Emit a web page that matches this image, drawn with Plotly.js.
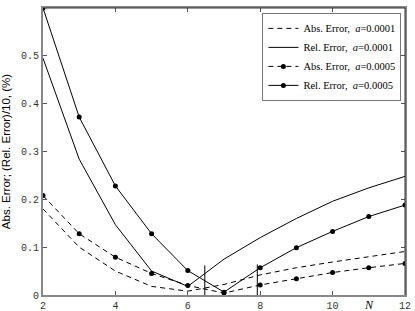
<!DOCTYPE html>
<html><head><meta charset="utf-8">
<script src="https://cdn.plot.ly/plotly-3.0.1.min.js"></script>
<style>html,body{margin:0;padding:0;background:#fff}#c{width:415px;height:311px}</style>
</head><body><div id="c"></div>
<script>
const N = [2,3,4,5,6,7,8,9,10,11,12];
const absA1 = [0.180,0.100,0.050,0.018,0.008,0.022,0.042,0.057,0.069,0.080,0.091];
const relA1 = [0.495,0.284,0.147,0.050,0.018,0.075,0.120,0.160,0.196,0.224,0.248];
const absA5 = [0.208,0.128,0.079,0.045,0.020,0.004,0.021,0.034,0.047,0.057,0.066];
const relA5 = [0.600,0.372,0.228,0.128,0.051,0.006,0.057,0.099,0.133,0.164,0.188];
const names = ['Abs. Error,  <i>a</i>=0.0001','Rel. Error,  <i>a</i>=0.0001','Abs. Error,  <i>a</i>=0.0005','Rel. Error,  <i>a</i>=0.0005'];
const xTicks = [2,4,6,8,10,12];
const yTicks = [0,0.1,0.2,0.3,0.4,0.5];
const yTickText = ['0','0.1','0.2','0.3','0.4','0.5'];
const cursorX = [6.47, 7.92];
const cursorTop = [0.062, 0.064];

const dash = '5px,4px';
const traces = [
  {x:N, y:absA1, name:names[0], legendgroup:'g1', mode:'lines', line:{color:'#000', width:1, dash:dash}},
  {x:N, y:relA1, name:names[1], legendgroup:'g2', mode:'lines', line:{color:'#000', width:1}},
  {x:N, y:absA5, name:names[2], legendgroup:'g3', mode:'lines+markers', line:{color:'#000', width:1, dash:dash}, marker:{color:'#000', size:5}},
  {x:N, y:relA5, name:names[3], legendgroup:'g4', mode:'lines+markers', line:{color:'#000', width:1}, marker:{color:'#000', size:5}}
];
const shapes = [];
cursorX.forEach((cx,i)=>shapes.push({type:'line', xref:'x', yref:'y', x0:cx, x1:cx, y0:0, y1:cursorTop[i], line:{color:'#000', width:1}}));
shapes.push({type:'line', xref:'paper', yref:'paper', x0:0, x1:1, y0:1, y1:1, line:{color:'#333', width:1}, layer:'above'});
shapes.push({type:'line', xref:'paper', yref:'paper', x0:1, x1:1, y0:0, y1:1, line:{color:'#333', width:1}, layer:'above'});
const layout = {
  width:415, height:311,
  margin:{l:43, r:10, t:8, b:16},
  paper_bgcolor:'#fff', plot_bgcolor:'#fff',
  showlegend:true,
  legend:{x:0.99, xanchor:'right', y:0.983, yanchor:'top', bgcolor:'#fff', bordercolor:'#777', borderwidth:1,
          traceorder:'grouped', tracegroupgap:0, itemwidth:30,
          font:{family:'Liberation Serif, Times New Roman, serif', size:10.5, color:'#000'}},
  xaxis:{range:[2,12], tickvals:xTicks, ticks:'inside', ticklen:4, tickcolor:'#555', showgrid:false, zeroline:false,
         showline:true, linecolor:'#888', linewidth:2, mirror:'ticks',
         tickfont:{family:'Liberation Mono, Courier New, monospace', size:10, color:'#333'}},
  yaxis:{range:[0,0.6], tickvals:yTicks, ticktext:yTickText, ticks:'inside', ticklen:4, tickcolor:'#555', showgrid:false, zeroline:false,
         showline:true, linecolor:'#888', linewidth:2, mirror:'ticks',
         tickfont:{family:'Liberation Mono, Courier New, monospace', size:10, color:'#333'},
         title:{text:'Abs. Error; (Rel. Error)/10, (%)', font:{family:'Liberation Sans, Arial, sans-serif', size:11.5, color:'#000'}, standoff:8}},
  shapes:shapes,
  annotations:[{x:11, y:0, xref:'x', yref:'y', yanchor:'top', yshift:-1, showarrow:false, text:'<i>N</i>',
                font:{family:'Liberation Serif, Times New Roman, serif', size:12, color:'#000'}}]
};
Plotly.newPlot('c', traces, layout, {displayModeBar:false, staticPlot:true});
</script></body></html>
